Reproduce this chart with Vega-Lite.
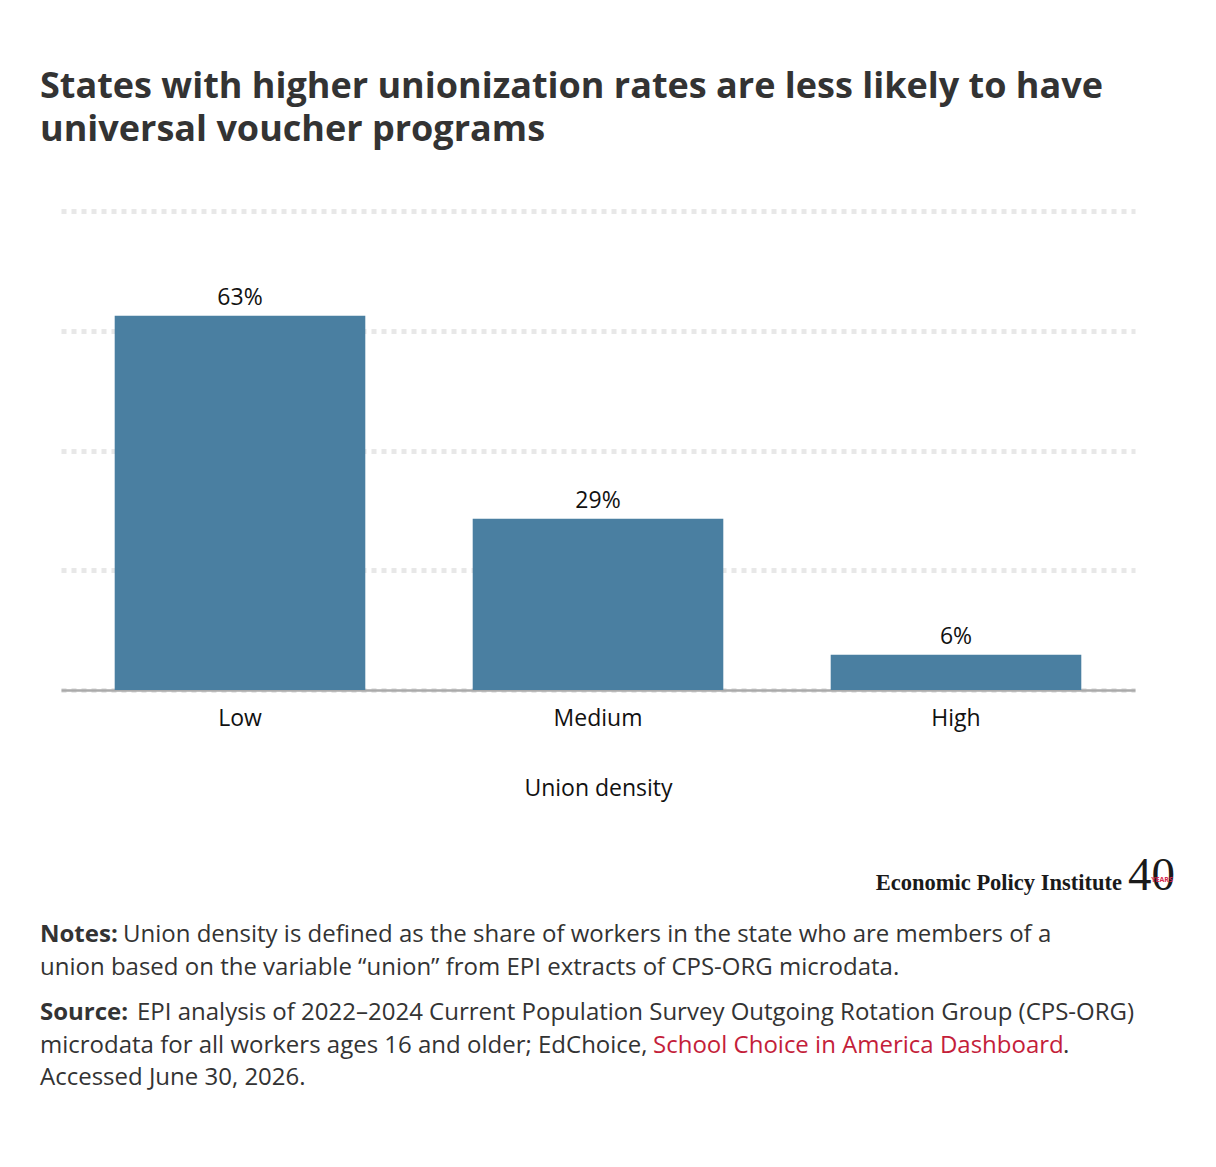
{
  "$schema": "https://vega.github.io/schema/vega-lite/v6.json",
  "background": "white",
  "padding": {"left": 40, "top": 69, "right": 0, "bottom": 20},
  "config": {"font": "Open Sans", "view": {"stroke": null}},
  "title": {
    "text": ["States with higher unionization rates are less likely to have", "universal voucher programs"],
    "anchor": "start",
    "frame": "bounds",
    "font": "Open Sans",
    "fontSize": 36,
    "fontWeight": "bold",
    "color": "#333333",
    "lineHeight": 43,
    "offset": 62
  },
  "bounds": "flush",
  "spacing": 13,
  "vconcat": [
    {
      "width": 1074,
      "height": 479,
      "data": {
        "values": [
          {"density": "Low", "share": 0.625},
          {"density": "Medium", "share": 0.286},
          {"density": "High", "share": 0.059}
        ]
      },
      "encoding": {
        "x": {
          "field": "density",
          "type": "nominal",
          "sort": ["Low", "Medium", "High"],
          "scale": {"paddingInner": 0.3, "paddingOuter": 0.15},
          "axis": {
            "title": "Union density",
            "labelAngle": 0,
            "labelFontSize": 23,
            "labelColor": "#111111",
            "labelPadding": 17,
            "ticks": false,
            "domainColor": "#aaaaaa",
            "domainWidth": 2.5,
            "titleFontSize": 23,
            "titleFontWeight": "normal",
            "titleColor": "#111111",
            "titlePadding": 47
          }
        },
        "y": {
          "field": "share",
          "type": "quantitative",
          "scale": {"domain": [0, 0.8]},
          "axis": {
            "title": null,
            "labels": false,
            "ticks": false,
            "domain": false,
            "values": [0, 0.2, 0.4, 0.6, 0.8],
            "grid": true,
            "gridColor": "#e8e8e8",
            "gridDash": [5, 5],
            "gridWidth": 5
          }
        }
      },
      "layer": [
        {"mark": {"type": "bar", "color": "#4a7fa1"}},
        {
          "mark": {"type": "text", "fontSize": 23, "dy": -11, "baseline": "alphabetic", "color": "#111111"},
          "encoding": {"text": {"field": "share", "type": "quantitative", "format": ".0%"}}
        }
      ]
    },
    {
      "width": 1074,
      "height": 210,
      "data": {
        "values": [
          {"part": "name", "label": "Economic Policy Institute"},
          {"part": "forty", "label": "40"},
          {"part": "badge", "label": "YEARS"}
        ]
      },
      "encoding": {
        "x": {"value": "width"},
        "y": {"value": "height"},
        "text": {"field": "label"}
      },
      "layer": [
        {
          "transform": [{"filter": "datum.part == 'name'"}],
          "mark": {"type": "text", "font": "Liberation Serif", "fontWeight": "bold", "fontSize": 22.5, "align": "right", "baseline": "alphabetic", "color": "#1a1a1a", "dx": -13, "dy": -23}
        },
        {
          "transform": [{"filter": "datum.part == 'forty'"}],
          "mark": {"type": "text", "font": "Liberation Serif", "fontSize": 47, "align": "left", "baseline": "alphabetic", "color": "#1a1a1a", "dx": -7, "dy": -23}
        },
        {
          "transform": [{"filter": "datum.part == 'badge'"}],
          "mark": {"type": "text", "font": "Open Sans", "fontWeight": "bold", "fontSize": 7, "align": "center", "baseline": "alphabetic", "color": "#d6284c", "dx": 27, "dy": -31}
        }
      ]
    },
    {
      "width": 1074,
      "height": {"step": 32.5},
      "data": {
        "values": [
          {"line": 1, "lead": "Notes:", "body": "Union density is defined as the share of workers in the state who are members of a"},
          {"line": 2, "lead": "", "body": "union based on the variable “union” from EPI extracts of CPS-ORG microdata."}
        ]
      },
      "encoding": {
        "x": {"value": 0},
        "y": {"field": "line", "type": "ordinal", "scale": {"type": "point"}, "axis": null}
      },
      "layer": [
        {
          "mark": {"type": "text", "align": "left", "baseline": "alphabetic", "fontSize": 24, "fontWeight": "bold", "color": "#333333", "dx": -21},
          "encoding": {"text": {"field": "lead"}}
        },
        {
          "transform": [{"filter": "datum.line == 1"}],
          "mark": {"type": "text", "align": "left", "baseline": "alphabetic", "fontSize": 24, "color": "#333333", "dx": 62},
          "encoding": {"text": {"field": "body"}}
        },
        {
          "transform": [{"filter": "datum.line > 1"}],
          "mark": {"type": "text", "align": "left", "baseline": "alphabetic", "fontSize": 24, "color": "#333333", "dx": -21},
          "encoding": {"text": {"field": "body"}}
        }
      ]
    },
    {
      "width": 1074,
      "height": {"step": 32.5},
      "data": {
        "values": [
          {"line": 1, "lead": "Source:", "body": "EPI analysis of 2022–2024 Current Population Survey Outgoing Rotation Group (CPS-ORG)", "link": "", "tail": ""},
          {"line": 2, "lead": "", "body": "microdata for all workers ages 16 and older; EdChoice,", "link": "School Choice in America Dashboard", "tail": "."},
          {"line": 3, "lead": "", "body": "Accessed June 30, 2026.", "link": "", "tail": ""}
        ]
      },
      "encoding": {
        "x": {"value": 0},
        "y": {"field": "line", "type": "ordinal", "scale": {"type": "point"}, "axis": null}
      },
      "layer": [
        {
          "mark": {"type": "text", "align": "left", "baseline": "alphabetic", "fontSize": 24, "fontWeight": "bold", "color": "#333333", "dx": -21},
          "encoding": {"text": {"field": "lead"}}
        },
        {
          "transform": [{"filter": "datum.line == 1"}],
          "mark": {"type": "text", "align": "left", "baseline": "alphabetic", "fontSize": 24, "color": "#333333", "dx": 76},
          "encoding": {"text": {"field": "body"}}
        },
        {
          "transform": [{"filter": "datum.line > 1"}],
          "mark": {"type": "text", "align": "left", "baseline": "alphabetic", "fontSize": 24, "color": "#333333", "dx": -21},
          "encoding": {"text": {"field": "body"}}
        },
        {
          "transform": [{"filter": "datum.line == 2"}],
          "mark": {"type": "text", "align": "left", "baseline": "alphabetic", "fontSize": 24, "color": "#c41e3a", "dx": 592},
          "encoding": {"text": {"field": "link"}}
        },
        {
          "transform": [{"filter": "datum.line == 2"}],
          "mark": {"type": "text", "align": "left", "baseline": "alphabetic", "fontSize": 24, "color": "#333333", "dx": 1002},
          "encoding": {"text": {"field": "tail"}}
        }
      ]
    }
  ]
}
